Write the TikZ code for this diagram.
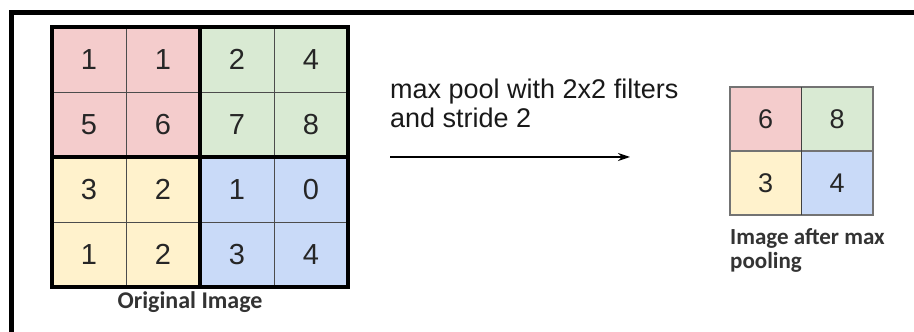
\documentclass[tikz,border=0pt]{standalone}
\usepackage{fontspec}
\setmainfont{Liberation Sans}
\newfontfamily\labelfont{Carlito}
\usetikzlibrary{positioning, arrows.meta}
\definecolor{poolred}{HTML}{F4CCCC}
\definecolor{poolgreen}{HTML}{D9EAD3}
\definecolor{poolyellow}{HTML}{FFF2CC}
\definecolor{poolblue}{HTML}{C9DAF8}
\tikzset{
	cell/.style={draw=black!70, line width=0.8pt, outer sep=0pt, inner sep=0pt,
		minimum width=74pt, minimum height=65pt,
		font=\fontsize{29}{30}\selectfont, text=black!85}
}
\tikzset{
	outcell/.style={cell, draw=black!55, line width=1.5pt,
		minimum width=71.5pt, minimum height=64pt, font=\fontsize{27}{30}\selectfont}
}
\tikzset{
	boldlabel/.style={font=\labelfont\bfseries\fontsize{24}{21}\selectfont, text=black!80}
}
\tikzset{
	pooltext/.style={font=\fontsize{27}{29}\selectfont, text=black!90}
}

\begin{document}
\begin{tikzpicture}[x=1pt, y=1pt, >={Stealth[length=12pt, width=8pt]}]
      \useasboundingbox (0,0) rectangle (914,332);
      % frame (top and left edges only)
      \draw[line width=5pt] (914,319) -- (11.5,319) -- (11.5,0);
      % original 4x4 image
      \foreach \v [count=\k from 0] in {1,1,2,4,5,6,7,8,3,2,1,0,1,2,3,4} {
        \pgfmathtruncatemacro{\r}{div(\k,4)}
        \pgfmathtruncatemacro{\c}{mod(\k,4)}
        \pgfmathtruncatemacro{\q}{2*div(\r,2)+div(\c,2)}
        \ifcase\q \def\fillc{poolred}\or \def\fillc{poolgreen}\or
          \def\fillc{poolyellow}\else \def\fillc{poolblue}\fi
        \node[cell, fill=\fillc] (in\r\c) at ({89+74*\c}, {272.5-65*\r}) {\v};
      }
      \draw[line width=4.5pt] (in00.north west) rectangle (in33.south east);
      \draw[line width=4.5pt] (in02.north west) -- (in32.south west);
      \draw[line width=4.5pt] (in20.north west) -- (in23.north east);
      \node[boldlabel, anchor=base] (inlabel) at (190,23) {Original Image};
      % pooling arrow and its caption
      \coordinate (arrowstart) at (390,175);
      \coordinate (arrowend) at (630,175);
      \draw[->, line width=1.3pt] (arrowstart) -- (arrowend);
      \node[pooltext, anchor=base west, align=left, inner sep=0pt] (pooldesc) at (390,204)
        {max pool with 2x2 filters\\and stride 2};
      % pooled 2x2 image
      \foreach \v/\fillc [count=\k from 0] in {6/poolred, 8/poolgreen, 3/poolyellow, 4/poolblue} {
        \pgfmathtruncatemacro{\r}{div(\k,2)}
        \pgfmathtruncatemacro{\c}{mod(\k,2)}
        \node[outcell, fill=\fillc] (out\r\c) at ({765.75+71.5*\c}, {213-64*\r}) {\v};
      }
      \draw[line width=1.8pt, black!75] (out00.north east) -- (out10.south east);
      \node[boldlabel, anchor=base west, align=left, inner sep=0pt,
        font=\labelfont\bfseries\fontsize{23}{24}\selectfont] (outlabel) at (730,63)
        {Image after max\\pooling};
    \end{tikzpicture}
\end{document}
